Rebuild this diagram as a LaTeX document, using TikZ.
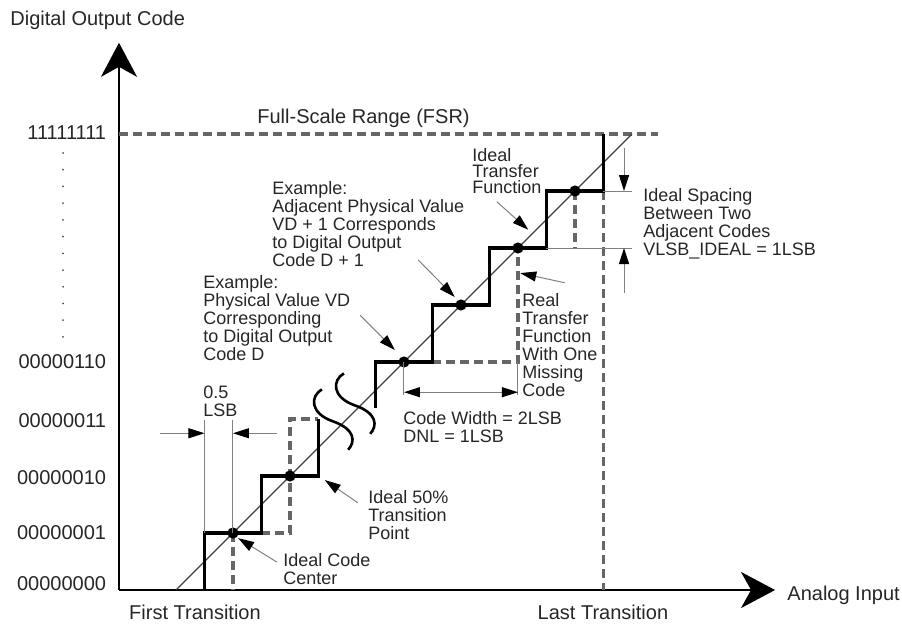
\documentclass[tikz,border=0pt]{standalone}
\usepackage{fontspec}
\setmainfont{Liberation Sans}
\usetikzlibrary{arrows.meta}

\begin{document}
\begin{tikzpicture}[x=28.5pt,y=28.5pt,
    stair/.style={line width=1.7pt,line join=miter},
    dashline/.style={line width=1.6pt,black!60,dash pattern=on 4.5pt off 2.5pt},
    guide/.style={line width=0.5pt,black!50},
    pointer/.style={guide,-{Triangle[length=8pt,width=5pt,color=black]}},
    note/.style={font=\fontsize{9}{9}\selectfont,align=left,inner sep=0pt,anchor=north west,text=black!85},
    axislabel/.style={font=\fontsize{10}{12}\selectfont,inner sep=0pt,text=black!85}]
      \useasboundingbox (-2.0877,-0.5789) rectangle (13.737,10.351);

      %draw axes
      \coordinate (O) at (0,0);
      \coordinate (xend) at (11.51,0);
      \coordinate (yend) at (0,9.6);
      \draw[line width=1.3pt,-{Stealth[length=17pt,width=18pt,inset=5pt]}] (O) -- (xend);
      \draw[line width=1.3pt,-{Stealth[length=17pt,width=18pt,inset=5pt]}] (O) -- (yend);
      \node[axislabel,anchor=base west] (ylab) at (-1.912,9.912) {Digital Output Code};
      \node[axislabel,anchor=base west] (xlab) at (11.72,-0.187) {Analog Input};
      \node[axislabel,anchor=base] (first) at (1.333,-0.526) {First Transition};
      \node[axislabel,anchor=base] (last) at (8.49,-0.526) {Last Transition};

      %code labels on the vertical axis
      \foreach \y/\lab in {8.02/11111111,4/00000110,2.98/00000011,1.98/00000010,1/00000001,0.12/00000000} {%
        \node[axislabel,anchor=east] (c\lab) at (-0.22,\y) {\lab};
      }
      \foreach \i in {0,...,11} {%
        \fill[black!70] (-0.982,7.667-\i*0.2934) circle (0.5pt);
      }

      %full scale range
      \coordinate (fsrL) at (0,8);
      \coordinate (fsrR) at (9.46,8);
      \draw[dashline] (fsrL) -- (fsrR);
      \node[axislabel,anchor=west] (fsr) at (2.421,8.28) {Full-Scale Range (FSR)};

      %ideal transfer line
      \coordinate (i0) at (1,0);
      \coordinate (i1) at (9,8);
      \draw[line width=0.6pt,black!75] (i0) -- (i1);

      %code centers
      \foreach \n/\x/\y in {d1/2/1,d2/3/2,d4/5/4,d5/6/5,d6/7/6,d7/8/7} {%
        \coordinate (\n) at (\x,\y);
      }

      %dashed parts
      \draw[dashline] (d1) -- (2,0);
      \draw[dashline] (2.5,1) -- (3,1) -- (3,3) -- (3.5,3);
      \draw[dashline] (5.5,4) -- (7,4) -- (d6);
      \draw[dashline] (d7) -- (8,6);
      \draw[dashline] (8.5,7) -- (8.5,0);

      %real transfer function
      \draw[stair] (1.5,0) -- (1.5,1) -- (2.5,1) -- (2.5,2) -- (3.5,2) -- (3.5,3);
      \draw[stair] (4.5,3.19) -- (4.5,4) -- (5.5,4) -- (5.5,5) -- (6.5,5) -- (6.5,6)
        -- (7.5,6) -- (7.5,7) -- (8.5,7) -- (8.5,8);

      %break marks
      \foreach \dx/\dy in {0/0,0.386/0.28} {%
        \draw[line width=1.3pt,shift={(\dx,\dy)}] (3.56,3.52) .. controls (3.35,3.4) and (3.35,3.1) .. (3.75,2.96)
          .. controls (4.15,2.82) and (4.15,2.6) .. (4.02,2.46);
      }

      \foreach \n in {d1,d2,d4,d5,d6,d7} {%
        \fill (\n) circle (2.8pt);
      }

      % 0.5 LSB
      \draw[guide] (1.5,1) -- (1.5,2.98);
      \draw[guide] (d1) -- (2,2.98);
      \coordinate (hl) at (0.72,2.75);
      \coordinate (hr) at (2.77,2.75);
      \draw[pointer] (hl) -- (1.5,2.75);
      \draw[pointer] (hr) -- (2,2.75);
      \node[note] (half) at (1.474,3.588) {0.5\\LSB};

      % code width
      \draw[guide] (d4) -- (5,3.42);
      \draw[guide] (7,4) -- (7,3.42);
      \coordinate (cwl) at (5,3.47);
      \coordinate (cwr) at (7,3.47);
      \draw[guide,{Triangle[length=8pt,width=5pt,color=black]}-{Triangle[length=8pt,width=5pt,color=black]}] (cwl) -- (cwr);
      \node[note] (cw) at (4.982,3.132) {Code Width = 2LSB\\DNL = 1LSB};

      % ideal spacing
      \draw[guide] (8.5,7) -- (9,7);
      \draw[guide] (7.5,6) -- (9,6);
      \coordinate (sp1) at (8.86,7.75);
      \coordinate (sp2) at (8.86,5.21);
      \draw[pointer] (sp1) -- (8.86,7);
      \draw[pointer] (sp2) -- (8.86,6);
      \node[note] (spacing) at (9.193,7.044) {Ideal Spacing\\Between Two\\Adjacent Codes\\VLSB\_IDEAL = 1LSB};

      % notes with pointers
      \node[note,font=\fontsize{9}{8}\selectfont] (itf) at (6.193,7.746) {Ideal\\Transfer\\Function};
      \coordinate (itfa) at (6.63,6.81);
      \coordinate (itfb) at (7.18,6.32);
      \draw[pointer] (itfa) -- (itfb);

      \node[note] (adj) at (2.684,7.167) {Example:\\Adjacent Physical Value\\VD + 1 Corresponds\\to Digital Output\\Code D + 1};
      \coordinate (adja) at (5.25,5.79);
      \coordinate (adjb) at (5.89,5.14);
      \draw[pointer] (adja) -- (adjb);

      \node[note] (phys) at (1.474,5.518) {Example:\\Physical Value VD\\Corresponding\\to Digital Output\\Code D};
      \coordinate (physa) at (4.23,4.82);
      \coordinate (physb) at (4.84,4.21);
      \draw[pointer] (physa) -- (physb);

      \node[note] (real) at (7.07,5.202) {Real\\Transfer\\Function\\With One\\Missing\\Code};
      \coordinate (reala) at (7.82,5.39);
      \coordinate (realb) at (7.04,5.56);
      \draw[pointer] (reala) -- (realb);

      \node[note] (fifty) at (4.368,1.746) {Ideal 50\%\\Transition\\Point};
      \coordinate (fiftya) at (4.19,1.53);
      \coordinate (fiftyb) at (3.61,1.93);
      \draw[pointer] (fiftya) -- (fiftyb);

      \node[note] (center) at (2.877,0.640) {Ideal Code\\Center};
      \coordinate (centera) at (2.77,0.49);
      \coordinate (centerb) at (2.09,0.91);
      \draw[pointer] (centera) -- (centerb);
\end{tikzpicture}
\end{document}
